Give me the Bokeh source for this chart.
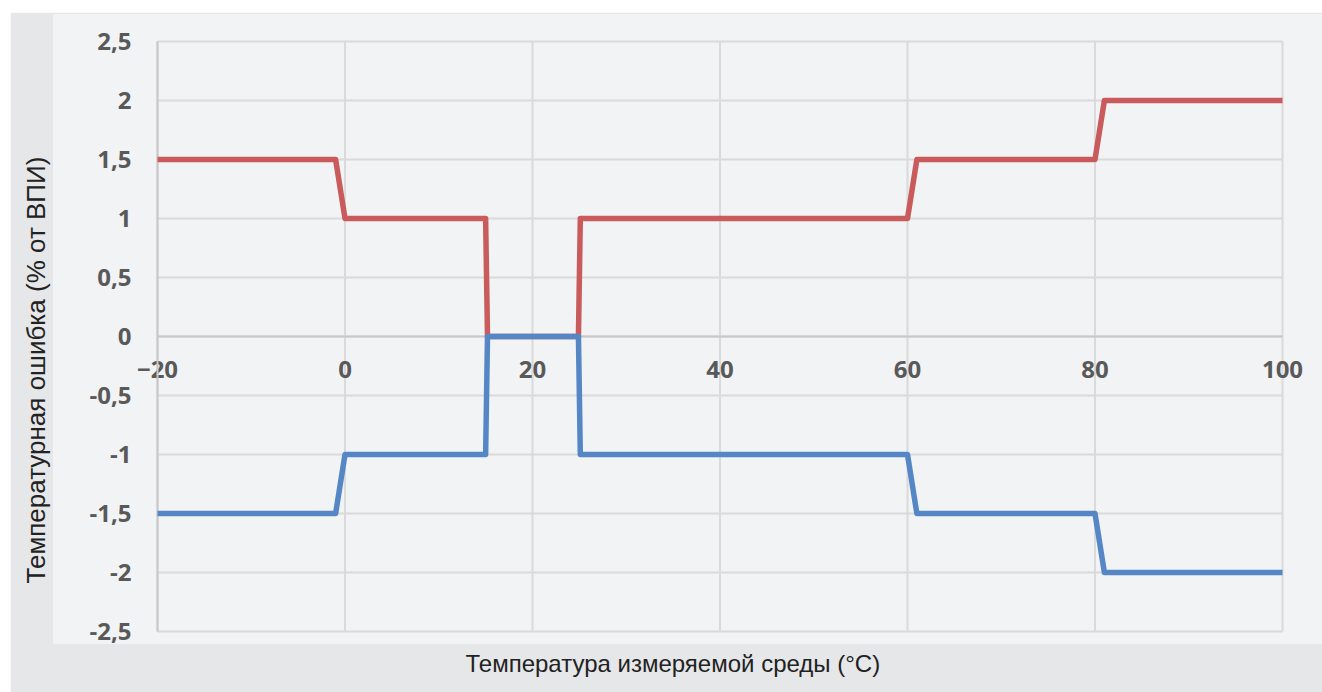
from bokeh.plotting import figure
from bokeh.models import Range1d, FixedTicker, Title, ColumnDataSource
from bokeh.embed import file_html
from bokeh.resources import INLINE

# ---- data ----
x_temp = [-20, -1, 0, 15, 15.2, 24.9, 25.1, 60, 61, 80, 81, 100]
upper_err = [1.5, 1.5, 1, 1, 0, 0, 1, 1, 1.5, 1.5, 2, 2]
lower_err = [-1.5, -1.5, -1, -1, 0, 0, -1, -1, -1.5, -1.5, -2, -2]
x_ticks = [-20, 0, 20, 40, 60, 80, 100]
y_ticks = [-2.5, -2, -1.5, -1, -0.5, 0, 0.5, 1, 1.5, 2, 2.5]
y_tick_labels = ["-2,5", "-2", "-1,5", "-1", "-0,5", "0", "0,5", "1", "1,5", "2", "2,5"]
x_title = "Температура измеряемой среды (°C)"
y_title = "Температурная ошибка (% от ВПИ)"

# ---- styling / layout constants ----
DARK = "#e6e7e9"
LIGHT = "#f2f3f5"
GRID = "#dadada"
AXIS = "#c8c8c8"
TICK_COLOR = "#595959"
TITLE_COLOR = "#222222"
RED = "#c95b5c"
BLUE = "#5587c6"

X0, X1 = x_ticks[0], x_ticks[-1]
Y0, Y1 = y_ticks[0], y_ticks[-1]
PX_X = 1125 / (X1 - X0)     # px per degree
PX_Y = 590 / (Y1 - Y0)      # px per percent
xr = Range1d(X0 - 104 / PX_X, X1 + 40 / PX_X)
yr = Range1d(Y0 - 12 / PX_Y, Y1 + 27 / PX_Y)

p = figure(width=1312, height=680, output_backend="svg", toolbar_location=None,
           x_range=xr, y_range=yr, margin=(12, 0, 0, 10),
           min_border_left=43, min_border_right=0, min_border_top=2, min_border_bottom=49,
           background_fill_color=LIGHT, border_fill_color=DARK)
p.outline_line_color = None
p.grid.visible = False

# grid lines limited to the data area
p.segment(x0=x_ticks, y0=[Y0] * len(x_ticks), x1=x_ticks, y1=[Y1] * len(x_ticks),
          line_color=GRID, line_width=2, level="underlay")
p.segment(x0=[X0] * len(y_ticks), y0=y_ticks, x1=[X1] * len(y_ticks), y1=y_ticks,
          line_color=GRID, line_width=2, level="underlay")

p.xaxis.ticker = FixedTicker(ticks=x_ticks)
p.yaxis.ticker = FixedTicker(ticks=y_ticks)
p.yaxis.major_label_overrides = {t: l for t, l in zip(y_ticks, y_tick_labels)}
p.xaxis.fixed_location = 0
p.yaxis.fixed_location = X0
p.xaxis.bounds = (X0, X1)
p.yaxis.bounds = (Y0, Y1)
for ax in (p.xaxis, p.yaxis):
    ax.level = "underlay"
    ax.axis_line_color = AXIS
    ax.axis_line_width = 2
    ax.major_tick_in = 0
    ax.major_tick_out = 0
    ax.minor_tick_line_color = None
    ax.major_label_text_font = "Open Sans"
    ax.major_label_text_font_style = "bold"
    ax.major_label_text_font_size = "24px"
    ax.major_label_text_color = TICK_COLOR
p.yaxis.major_label_standoff = 26
p.xaxis.major_label_standoff = 24

src = ColumnDataSource(dict(x=x_temp, up=upper_err, lo=lower_err))
p.line("x", "up", source=src, line_color=RED, line_width=5.5, line_join="round")
p.line("x", "lo", source=src, line_color=BLUE, line_width=5.5, line_join="round")

# axis titles in the darker border strips
p.add_layout(Title(text=y_title, align="left", offset=60, standoff=6,
                   text_font="Liberation Sans", text_font_style="normal",
                   text_font_size="26px", text_color=TITLE_COLOR), "left")
p.add_layout(Title(text=x_title, align="left", offset=412, standoff=8,
                   text_font="Liberation Sans", text_font_style="normal",
                   text_font_size="24px", text_color=TITLE_COLOR), "below")

open("out.html", "w").write(file_html(p, INLINE))
